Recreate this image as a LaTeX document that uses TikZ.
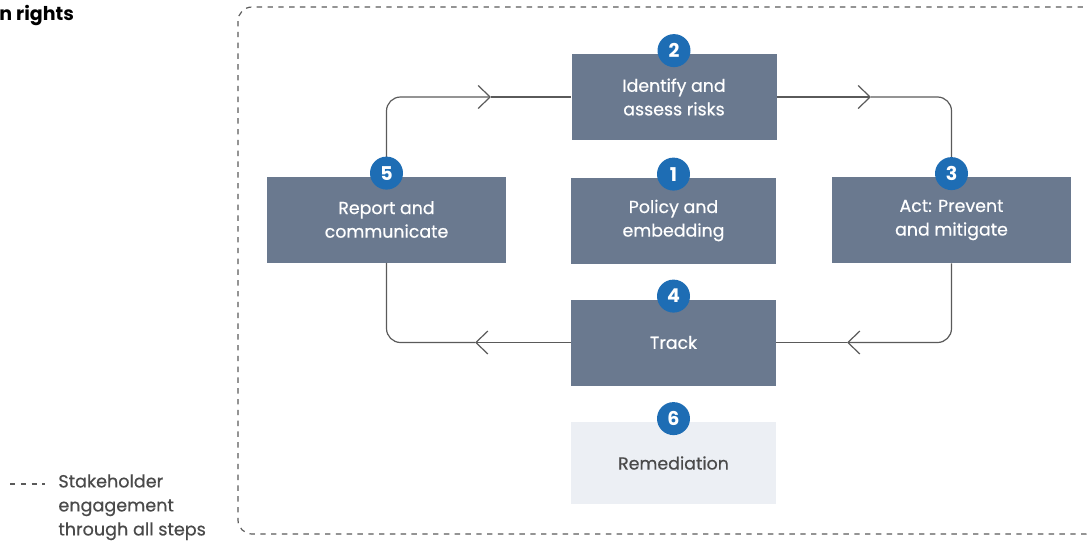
\documentclass[tikz,border=0pt]{standalone}
\usepackage{fontspec}
\setmainfont{Poppins}
\newfontfamily\medfont{Poppins}[FakeBold=0.5]
\usetikzlibrary{arrows.meta}

\definecolor{slate}{HTML}{6A798F}
\definecolor{dotblue}{HTML}{1E6DB4}
\definecolor{paleblue}{HTML}{ECEFF4}
\definecolor{linegray}{HTML}{5A5A5A}
\definecolor{textgray}{HTML}{4A4A4A}

\begin{document}
\begin{tikzpicture}[x=0.5pt,y=-0.5pt,
  stepbox/.style={fill=slate, text=white, align=center, inner sep=0pt,
    font=\medfont\fontsize{8.7}{11.8}\selectfont, minimum height=43pt},
  numdot/.style={circle, fill=dotblue, text=white, inner sep=0pt,
    font=\bfseries\fontsize{9.5}{9.5}\selectfont, minimum size=16.5pt},
  flow/.style={draw=linegray, line width=0.6pt, rounded corners=7pt},
  tip/.style={-{Straight Barb[length=6pt,width=11.5pt,line width=0.6pt]}},
  frame/.style={draw=linegray, line width=0.6pt, dash pattern=on 2.7pt off 2.7pt, rounded corners=7pt}]
\useasboundingbox (0,0) rectangle (1087,541);

% stakeholder frame
\draw[frame] (238,7) rectangle (1100,534);

% steps
\node[stepbox, minimum width=102.5pt] (n2) at (674,97) {Identify and\\assess risks};
\node[stepbox, minimum width=102.5pt] (n1) at (673.5,220.5) {Policy and\\embedding};
\node[stepbox, minimum width=119.5pt] (n5) at (386.5,219.5) {Report and\\communicate};
\node[stepbox, minimum width=119.5pt] (n3) at (951.5,220) {Act: Prevent\\and mitigate};
\node[stepbox, minimum width=102.5pt] (n4) at (673.5,342.5) {Track};
\node[stepbox, fill=paleblue, text=textgray, minimum width=102.5pt, minimum height=41pt] (n6) at (673.5,463) {Remediation};

% cycle
\coordinate (m52) at (491,97);
\coordinate (m23) at (871,97);
\coordinate (m34) at (847,342.5);
\coordinate (m45) at (475,342.5);
\draw[flow, tip] (n5.north) |- (m52);
\draw[flow] (m52) -- (n2.west);
\draw[flow, tip] (n2.east) -- (m23);
\draw[flow] (m23) -| (n3.north);
\draw[flow, tip] (n3.south) |- (m34);
\draw[flow] (m34) -- (n4.east);
\draw[flow, tip] (n4.west) -- (m45);
\draw[flow] (m45) -| (n5.south);

% numbers
\node[numdot] (d1) at ([yshift=1.5pt]n1.north) {1};
\node[numdot] (d2) at ([yshift=1.5pt]n2.north) {2};
\node[numdot] (d3) at ([yshift=1.5pt]n3.north) {3};
\node[numdot] (d4) at ([yshift=1.5pt]n4.north) {4};
\node[numdot] (d5) at ([yshift=1.5pt]n5.north) {5};
\node[numdot] (d6) at ([yshift=1.5pt]n6.north) {6};

% title and legend
\node[anchor=base west, inner sep=0pt, font=\bfseries\fontsize{9.5}{9.5}\selectfont] (title) at (-1,20) {n rights};
\coordinate (k1) at (10,484);
\coordinate (k2) at (45,484);
\draw[frame] (k1) -- (k2);
\node[anchor=north west, align=left, inner sep=0pt, text=textgray,
  font=\medfont\fontsize{8.8}{12}\selectfont] (key) at (58,474) {Stakeholder\\engagement\\through all steps};
\end{tikzpicture}
\end{document}
